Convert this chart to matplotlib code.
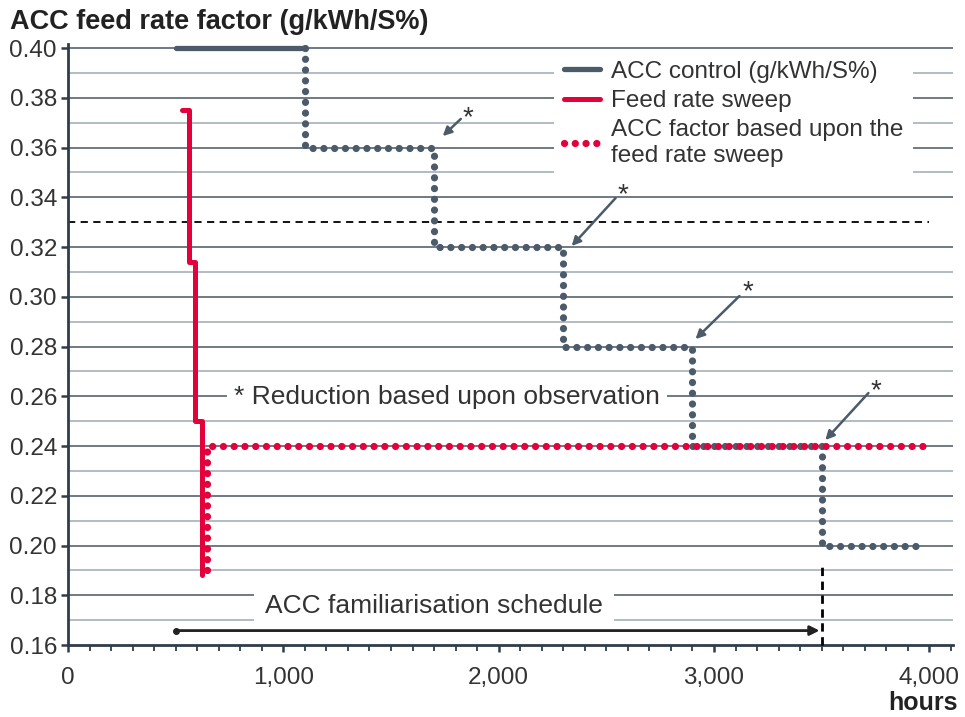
import numpy as np
import matplotlib
matplotlib.use('Agg')
import matplotlib.pyplot as plt
from matplotlib.ticker import MultipleLocator, FuncFormatter

plt.rcParams['font.family'] = ['Liberation Sans', 'DejaVu Sans']

# ACC control: solid part, then stepped reductions (steps-pre)
control_solid_hours = [500, 1100]
control_solid_rate = [0.40, 0.40]
control_step_hours = [1100, 1700, 2300, 2900, 3500, 3980]
control_step_rate = [0.40, 0.36, 0.32, 0.28, 0.24, 0.20]

# feed rate sweep (steps-pre)
sweep_hours = [530, 560, 590, 620, 620]
sweep_rate = [0.375, 0.375, 0.314, 0.25, 0.188]

# ACC factor based upon the sweep (steps-pre)
factor_hours = [645, 3980]
factor_rate = [0.19, 0.24]

# "*" reduction marks: star label, arrow start, arrow tip
star_hours = [1856, 2575, 3155, 3754]
star_rate = [0.3743, 0.3433, 0.3043, 0.2645]
arrow_from_hours = [1824, 2543, 3118, 3717]
arrow_from_rate = [0.3715, 0.3397, 0.3003, 0.2613]
arrow_tip_hours = [1740, 2339, 2914, 3517]
arrow_tip_rate = [0.3646, 0.3204, 0.2830, 0.2424]

limit_rate = 0.33
schedule_start = 500
schedule_end = 3500

grey = '#4b5b6a'
red = '#e4003b'
major_grid = '#56646f'
minor_grid = '#a6b0ba'
txt = '#333333'

fig = plt.figure(figsize=(9.65, 7.17), dpi=100)
ax = fig.add_axes([0.0705, 0.1004, 0.9171, 0.8378])
ax.set_xlim(0, 4110)
ax.set_ylim(0.16, 0.4015)

# gridlines
for v in np.arange(0.17, 0.401, 0.01):
    major = round(v * 100) % 2 == 0
    if abs(v - limit_rate) < 1e-6:
        continue
    ax.axhline(v, color=major_grid if major else minor_grid, lw=1.2, zorder=0)

dots = dict(linestyle=(0, (0.01, 1.48)), dash_capstyle='round', lw=5.2)

ax.plot(control_solid_hours, control_solid_rate, color=grey, lw=3.8,
        solid_capstyle='round', zorder=4, label='ACC control (g/kWh/S%)')
ax.plot(control_step_hours, control_step_rate, color=grey, drawstyle='steps-pre',
        zorder=3, **dots)
ax.plot(sweep_hours, sweep_rate, color=red, lw=3.6, drawstyle='steps-pre',
        solid_capstyle='round', solid_joinstyle='round', zorder=5,
        label='Feed rate sweep')
ax.plot(factor_hours, factor_rate, color=red, drawstyle='steps-pre', zorder=4,
        label='ACC factor based upon the\nfeed rate sweep', **dots)

ax.plot([0, 4000], [limit_rate, limit_rate], color='black', lw=1.3,
        linestyle=(0, (4, 3)), zorder=2)
ax.plot([schedule_end, schedule_end], [0.16, 0.1925], color='black', lw=2,
        linestyle=(0, (3, 2)), zorder=3, clip_on=False)

# schedule arrow
ax.plot([schedule_start], [0.1658], 'o', color='#222222', ms=4, zorder=6)
ax.annotate('', xy=(schedule_end - 10, 0.1658), xytext=(schedule_start, 0.1658),
            arrowprops=dict(arrowstyle='-|>', color='#222222', lw=2,
                            mutation_scale=14, shrinkA=0, shrinkB=0), zorder=6)

ax.text(1700, 0.1755, 'ACC familiarisation schedule', fontsize=19, color=txt,
        ha='center', va='center', zorder=5,
        bbox=dict(facecolor='white', edgecolor='none', pad=8))
ax.text(1760, 0.2597, '* Reduction based upon observation', fontsize=19,
        color=txt, ha='center', va='center', zorder=5,
        bbox=dict(facecolor='white', edgecolor='none', pad=5))

for sx, sy in zip(star_hours, star_rate):
    ax.text(sx, sy - 0.0025, '*', fontsize=20, color=txt, ha='center',
            va='center', zorder=6)
for fx, fy, tx, ty in zip(arrow_from_hours, arrow_from_rate, arrow_tip_hours, arrow_tip_rate):
    ax.annotate('', xy=(tx, ty), xytext=(fx, fy), zorder=6,
                arrowprops=dict(arrowstyle='-|>', color=grey, lw=1.8,
                                mutation_scale=13, shrinkA=0, shrinkB=0))

leg = ax.legend(loc='upper left', bbox_to_anchor=(0.5355, 1.009), fontsize=17.5,
                frameon=True, fancybox=False, handlelength=1.5, handletextpad=0.45,
                labelspacing=0.3, borderpad=0.4, labelcolor=txt)
leg.get_frame().set_facecolor('white')
leg.get_frame().set_edgecolor('none')
leg.get_frame().set_alpha(1)
leg.set_zorder(7)

# axes styling
for s in ['top', 'right']:
    ax.spines[s].set_visible(False)
for s in ['left', 'bottom']:
    ax.spines[s].set_color('#2f3d4a')
    ax.spines[s].set_linewidth(2)

ax.xaxis.set_major_locator(MultipleLocator(1000))
ax.xaxis.set_minor_locator(MultipleLocator(100))
ax.yaxis.set_major_locator(MultipleLocator(0.02))
ax.xaxis.set_major_formatter(FuncFormatter(lambda v, p: f'{v:,.0f}'))
ax.yaxis.set_major_formatter(FuncFormatter(lambda v, p: f'{v:.2f}'))
ax.tick_params(axis='both', which='major', labelsize=17.5, colors='#2f3d4a',
               labelcolor=txt, width=1.8, length=5)
ax.tick_params(axis='x', which='minor', colors='#2f3d4a', width=1.3, length=4)
ax.tick_params(axis='x', which='major', pad=11)
ax.tick_params(axis='y', which='major', pad=3)

fig.text(0.010, 0.970, 'ACC feed rate factor (g/kWh/S%)', fontsize=19.5,
         fontweight='bold', color='#222222', ha='left', va='center')
fig.text(0.993, 0.019, 'hours', fontsize=18, fontweight='bold', color='#222222',
         ha='right', va='center')

fig.savefig('out.png', dpi=100)
